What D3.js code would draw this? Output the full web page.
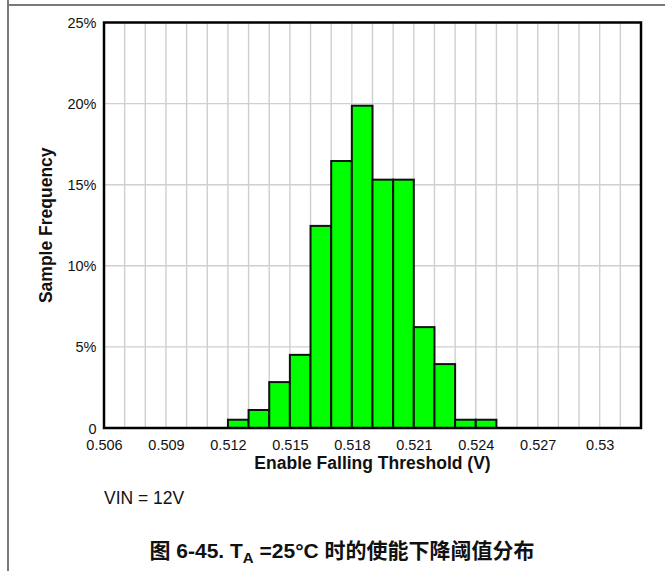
<!DOCTYPE html>
<html>
<head>
<meta charset="utf-8">
<script src="https://cdn.jsdelivr.net/npm/d3@7"></script>
<style>
html,body{margin:0;padding:0;background:#fff;}
svg{display:block;}
</style>
</head>
<body>
<svg id="chart" width="665" height="571"></svg>
<script>
// ---- data ----
const binStarts = [0.512,0.513,0.514,0.515,0.516,0.517,0.518,0.519,0.520,0.521,0.522,0.523,0.524];
const frequency = [0.51,1.11,2.83,4.51,12.46,16.46,19.87,15.31,15.31,6.22,3.94,0.51,0.51];
const binWidth = 0.001;
const xTickValues = [0.506,0.509,0.512,0.515,0.518,0.521,0.524,0.527,0.530];
const xTickLabels = ["0.506","0.509","0.512","0.515","0.518","0.521","0.524","0.527","0.53"];
const yTickValues = [0,5,10,15,20,25];
const yTickLabels = ["0","5%","10%","15%","20%","25%"];
const xGridValues = d3.range(0.507,0.5315,0.001);
const yGridValues = [5,10,15,20];
const xTitle = "Enable Falling Threshold (V)";
const yTitle = "Sample Frequency";
const noteText = "VIN = 12V";

const svg = d3.select("#chart");
const font = "'Liberation Sans', Arial, Helvetica, sans-serif";
const m = {left:104, right:641, top:22.5, bottom:428};
const x = d3.scaleLinear().domain([0.506,0.532]).range([m.left,m.right]);
const y = d3.scaleLinear().domain([0,25]).range([m.bottom,m.top]);

// outer page frame
svg.append("line").attr("x1",8).attr("x2",665).attr("y1",5).attr("y2",5)
  .attr("stroke","#7a7a7a").attr("stroke-width",2);
svg.append("line").attr("x1",8).attr("x2",8).attr("y1",0).attr("y2",571)
  .attr("stroke","#7a7a7a").attr("stroke-width",2);

// plot background
svg.append("rect").attr("x",m.left).attr("y",m.top).attr("width",m.right-m.left).attr("height",m.bottom-m.top).attr("fill","#fff");

// grid
const g = svg.append("g");
g.selectAll(".vg").data(xGridValues).join("line")
  .attr("x1",d=>x(d)).attr("x2",d=>x(d)).attr("y1",m.top).attr("y2",m.bottom)
  .attr("stroke","#cfcfcf").attr("stroke-width",1.4);
g.selectAll(".hg").data(yGridValues).join("line")
  .attr("x1",m.left).attr("x2",m.right).attr("y1",d=>y(d)).attr("y2",d=>y(d))
  .attr("stroke","#cfcfcf").attr("stroke-width",1.4);

// bars
svg.append("g").selectAll("rect").data(binStarts).join("rect")
  .attr("x",d=>x(d)).attr("width",d=>x(d+binWidth)-x(d))
  .attr("y",(d,i)=>y(frequency[i])).attr("height",(d,i)=>y(0)-y(frequency[i]))
  .attr("fill","#00ff00").attr("stroke","#111").attr("stroke-width",2);

// frame
svg.append("rect").attr("x",m.left).attr("y",m.top).attr("width",m.right-m.left).attr("height",m.bottom-m.top)
  .attr("fill","none").attr("stroke","#000").attr("stroke-width",2.5);

// x axis labels
const xAxis = d3.axisBottom(x).tickValues(xTickValues).tickSize(0).tickPadding(0)
  .tickFormat((d,i)=>xTickLabels[i]);
const xg = svg.append("g").attr("transform",`translate(0,${m.bottom})`).call(xAxis);
xg.select(".domain").remove();
xg.selectAll("text").attr("font-family",font).attr("font-size",14.5).attr("fill","#111")
  .attr("dy",null).attr("y",21.5);

// y axis labels
const yAxis = d3.axisLeft(y).tickValues(yTickValues).tickSize(0).tickPadding(0)
  .tickFormat((d,i)=>yTickLabels[i]);
const yg = svg.append("g").attr("transform",`translate(${m.left-7.5},0)`).call(yAxis);
yg.select(".domain").remove();
yg.selectAll("text").attr("font-family",font).attr("font-size",14.5).attr("fill","#111")
  .attr("x",0).attr("dy","0.35em");

// axis titles
svg.append("text").attr("x",(m.left+m.right)/2).attr("y",468.5).attr("text-anchor","middle")
  .attr("font-family",font).attr("font-size",17.5).attr("font-weight","bold").attr("fill","#111")
  .text(xTitle);
svg.append("text").attr("transform",`translate(52,${(m.top+m.bottom)/2}) rotate(-90)`)
  .attr("text-anchor","middle")
  .attr("font-family",font).attr("font-size",17.5).attr("font-weight","bold").attr("fill","#111")
  .text(yTitle);

// note
svg.append("text").attr("x",104).attr("y",503.5).attr("font-family",font).attr("font-size",17.5).attr("fill","#111")
  .text(noteText);

// caption
const cap = svg.append("text").attr("x",342).attr("y",558).attr("text-anchor","middle")
  .attr("font-family","'Liberation Sans', Arial, 'Noto Sans CJK SC', sans-serif")
  .attr("font-size",21).attr("font-weight","bold").attr("fill","#111");
cap.append("tspan").text("图 6-45. T");
cap.append("tspan").attr("font-size",15).attr("dy",5).text("A");
cap.append("tspan").attr("dy",-5).text(" =25°C 时的使能下降阈值分布");
</script>
</body>
</html>
